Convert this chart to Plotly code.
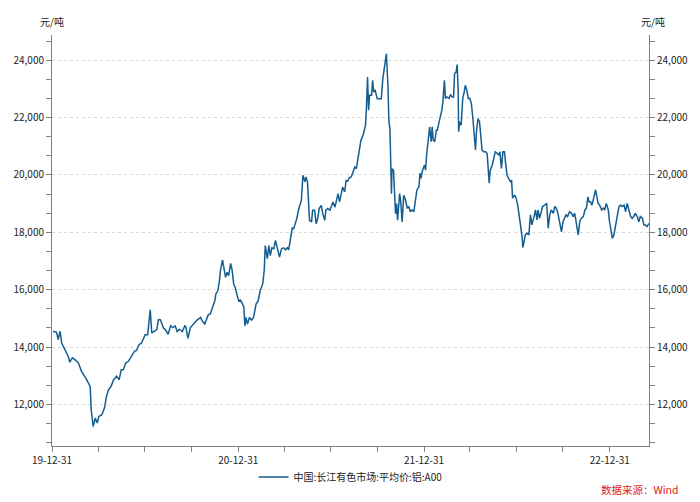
import pandas as pd
import plotly.graph_objects as go

# ---- data: days since 2019-12-31 and price (元/吨) ----
day_offset = [
    2, 9, 12, 16, 19, 26, 32, 35, 40, 45, 52, 58, 64, 68, 73, 75, 77, 81, 85, 89,
    92, 98, 103, 107, 111, 116, 121, 127, 132, 136, 140, 145, 150, 156, 162, 166, 171, 176, 183, 188,
    191, 193, 196, 201, 206, 209, 213, 219, 223,
    228, 233, 237, 242, 246, 250, 256, 261, 263, 267, 272, 278, 285, 292, 295, 300, 303, 307, 311, 316,
    320, 322, 326, 329, 331, 335, 338, 341, 344, 347, 351, 354, 357, 360, 364, 367, 370, 373, 377, 379,
    381, 384, 388, 392, 396, 398, 401, 405, 409, 414, 417, 419, 423, 426, 429, 432, 436, 439, 443, 447,
    451, 455, 459, 462, 465,
    472, 475, 478, 481, 485, 488, 490, 493, 495, 497, 499, 502, 506, 510, 512, 516, 519, 522, 525, 529,
    532, 536, 538, 542, 546, 549, 552, 556, 559, 562, 565, 568, 571, 575, 578, 581, 584, 588, 592, 595,
    598, 601, 604, 607, 611, 614, 616, 618, 620, 622, 624, 628, 630, 632, 635, 639, 643, 647, 650, 652,
    655, 657, 660, 662, 664, 666, 667, 668, 671, 675, 677, 679, 683, 685, 688, 691, 694,
    698, 701, 704, 707, 711, 714, 717, 721, 723, 725, 728, 732, 734, 736, 738, 740, 742, 745, 747, 749,
    752, 755, 757, 760, 763, 766, 768, 771, 773, 776, 780, 783, 786, 789, 791, 794, 796, 798, 799, 801,
    804, 807, 810, 812, 815, 818, 821, 824, 827, 830, 832, 834, 837, 840, 842, 845, 848, 852, 855, 857,
    859, 861, 865, 868, 871, 875, 878, 880, 883, 886, 889, 891, 894, 897, 901, 903, 905, 909, 912, 915,
    918, 920, 924, 925, 927, 930, 933, 937, 940,
    943, 947, 950, 953, 955, 958, 961, 964, 968, 972, 975, 978, 981, 985, 988, 991, 994, 998, 1001, 1004,
    1007, 1010, 1013, 1017, 1021, 1024, 1027, 1030, 1034, 1037, 1040, 1044, 1047, 1050, 1053, 1055, 1058, 1061, 1065, 1068,
    1070, 1073, 1076, 1080, 1083, 1086, 1089, 1093, 1095, 1098, 1101, 1104, 1107, 1110, 1114, 1117, 1120, 1124, 1127, 1130,
    1133, 1137, 1140, 1143, 1146, 1150, 1153, 1156, 1160, 1163, 1166, 1169, 1173,
]
price = [
    14550, 14510, 14260, 14550, 14140, 13910, 13670, 13470, 13620, 13560, 13440, 13150, 13000, 12860, 12690, 12630, 11810, 11230, 11520, 11350,
    11580, 11640, 11870, 12280, 12510, 12630, 12860, 12980, 12860, 13210, 13210, 13440, 13500, 13670, 13850, 13880, 14080, 14140, 14430, 14430,
    14840, 15300, 14490, 14550, 14610, 14950, 14950, 14660, 14600,
    14440, 14740, 14680, 14740, 14540, 14620, 14540, 14740, 14700, 14300, 14680, 14800, 14940, 15030, 14910, 14800, 14940, 15120, 15150, 15380,
    15610, 15850, 15970, 16320, 16670, 17040, 16730, 16430, 16610, 16490, 16920, 16670, 16200, 16080, 15790, 15610, 15640, 15560, 15380, 14740,
    15030, 14800, 15030, 14940, 15030, 15210, 15500, 15610, 15970, 16200, 16670, 17540, 17080, 17540, 17190, 17460, 17430, 17720, 17460, 17140,
    17430, 17460, 17390, 17460, 17390,
    18150, 18130, 18300, 18480, 18830, 19060, 19120, 19990, 19870, 19760, 19930, 19760, 18420, 18360, 18770, 18770, 18300, 18480, 18830, 18940,
    18650, 18420, 18770, 18830, 18770, 18940, 19060, 18880, 19170, 19350, 19060, 19350, 19580, 19410, 19810, 19780, 19900, 19930, 20110, 20280,
    20220, 20570, 20920, 21210, 21380, 21560, 21730, 22430, 23420, 22260, 22780, 22780, 23300, 22900, 22950, 22660, 22660, 22660, 23360, 23650,
    23880, 24230, 23130, 21850, 21620, 20570, 19350, 20220, 20160, 18650, 19000, 18420, 19350, 19120, 18360, 19290, 19170,
    18840, 18900, 18720, 18780, 18720, 19190, 19480, 19590, 20060, 19880, 20170, 20350, 20170, 20690, 21100, 21270, 21680, 21160, 21680, 21220,
    21160, 21560, 21560, 21800, 22030, 22260, 22550, 23300, 22670, 22720, 22670, 22810, 22720, 22720, 23540, 23590, 23850, 23010, 21510, 21850,
    21740, 22670, 22900, 23130, 22960, 22670, 22670, 22490, 21970, 21390, 20870, 21510, 21970, 21850, 21390, 20870, 20810, 20810, 20750, 20060,
    19710, 20170, 20350, 20580, 20810, 20750, 20690, 20810, 20230, 20810, 20810, 20460, 20000, 19880, 19770, 19820, 19190, 19300, 19190, 18950,
    18430, 18320, 17790, 17470, 17620, 17910, 17970, 17910, 18610,
    18260, 18550, 18780, 18430, 18780, 18490, 18660, 18900, 18950, 19010, 18140, 18610, 18780, 18660, 18900, 18840, 18660, 18310, 18020, 18370,
    18490, 18610, 18550, 18720, 18660, 18550, 18660, 18260, 17910, 18370, 18490, 18550, 18780, 18840, 19240, 19070, 19070, 18950, 19240, 19480,
    19300, 19010, 18950, 18780, 18840, 18780, 19010, 18780, 18430, 18140, 17790, 17910, 18200, 18550, 18900, 18950, 18900, 18950, 18720, 19010,
    18840, 18550, 18490, 18550, 18660, 18550, 18370, 18550, 18490, 18260, 18260, 18200, 18310,
]

series_name = "中国:长江有色市场:平均价:铝:A00"
unit_label = "元/吨"
source_text = "数据来源：Wind"

x_tick_dates = [
    "2019-12-31", "2020-03-31", "2020-06-30", "2020-09-30",
    "2020-12-31", "2021-03-31", "2021-06-30", "2021-09-30",
    "2021-12-31", "2022-03-31", "2022-06-30", "2022-09-30",
    "2022-12-31",
]
x_tick_text = ["19-12-31", "", "", "", "20-12-31", "", "", "", "21-12-31", "", "", "", "22-12-31"]

y_range = [10547, 24883]

dates = pd.Timestamp("2019-12-31") + pd.to_timedelta(day_offset, unit="D")

FONT = "Noto Sans CJK SC, Noto Sans, sans-serif"
LINE_COLOR = "#145d91"
AXIS_COLOR = "#808080"
TEXT_COLOR = "#222222"
FS = 10

fig = go.Figure()
fig.add_trace(go.Scatter(
    x=dates, y=price, mode="lines", name=series_name,
    line=dict(color=LINE_COLOR, width=1.5),
))
fig.add_trace(go.Scatter(
    x=dates, y=price, mode="lines", yaxis="y2", showlegend=False,
    hoverinfo="skip", line=dict(color="rgba(0,0,0,0)", width=0),
))

yaxis_common = dict(
    range=y_range, dtick=2000, tick0=0, tickformat=",d",
    ticks="outside", ticklen=5, tickcolor=AXIS_COLOR,
    showline=True, linecolor=AXIS_COLOR, linewidth=1,
    tickfont=dict(size=FS, color=TEXT_COLOR),
    zeroline=False, automargin=False,
    minor=dict(dtick=2000 / 3, tick0=12000, ticks="outside", ticklen=5,
               tickcolor=AXIS_COLOR, showgrid=False),
)

fig.update_layout(
    width=700, height=502,
    paper_bgcolor="white", plot_bgcolor="white",
    margin=dict(l=52, r=51, t=35, b=56, autoexpand=False),
    font=dict(family=FONT, size=FS, color=TEXT_COLOR),
    showlegend=True,
    legend=dict(orientation="h", x=0.5, xanchor="center",
                yref="container", y=0.05, yanchor="middle",
                font=dict(size=FS, color=TEXT_COLOR), bgcolor="rgba(0,0,0,0)"),
    xaxis=dict(
        type="date", range=[dates[0] - pd.Timedelta(days=2), dates[-1]],
        tickvals=x_tick_dates, ticktext=x_tick_text,
        ticks="outside", ticklen=5, tickcolor=AXIS_COLOR,
        showline=True, linecolor=AXIS_COLOR, linewidth=1,
        showgrid=False, zeroline=False, automargin=False,
        tickfont=dict(size=FS, color=TEXT_COLOR),
    ),
    yaxis=dict(**yaxis_common, side="left", showgrid=True,
               gridcolor="#d9d9d9", griddash="3px,3px", gridwidth=1),
    yaxis2=dict(**yaxis_common, side="right", overlaying="y", showgrid=False),
    annotations=[
        dict(text=unit_label, xref="paper", yref="paper", x=0, y=1, xanchor="center",
             yanchor="bottom", yshift=4, showarrow=False, font=dict(size=FS, color=TEXT_COLOR)),
        dict(text=unit_label, xref="paper", yref="paper", x=1, y=1, xanchor="center",
             yanchor="bottom", yshift=4, xshift=4, showarrow=False, font=dict(size=FS, color=TEXT_COLOR)),
        dict(text=source_text, xref="paper", yref="paper", x=1.054, y=-0.107, xanchor="right",
             yanchor="middle", showarrow=False, font=dict(size=10.5, color="#e31a1c")),
    ],
)

fig.write_html(
    "out.html",
    config={"displayModeBar": False},
    post_script="document.body.style.margin='0';document.body.style.padding='0';",
)
